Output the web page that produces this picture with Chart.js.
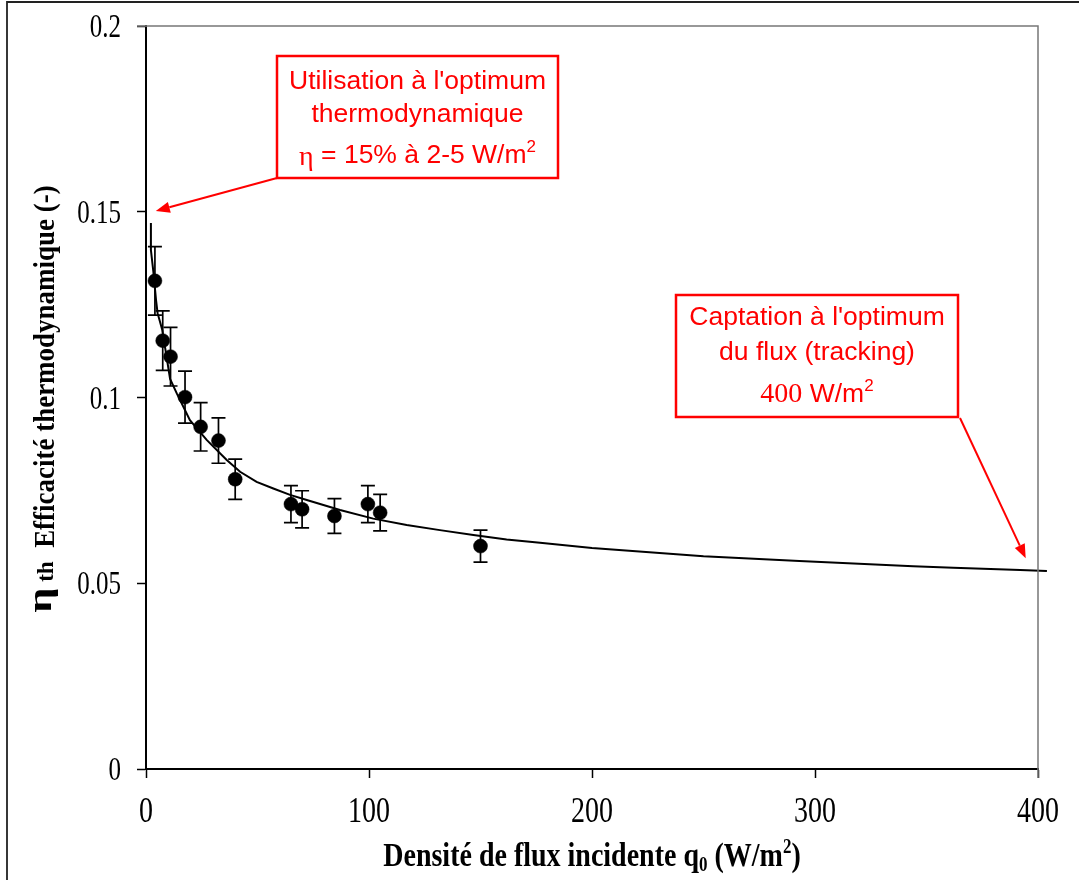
<!DOCTYPE html>
<html>
<head>
<meta charset="utf-8">
<script src="https://cdn.jsdelivr.net/npm/chart.js@4/dist/chart.umd.min.js"></script>
<style>
  html,body{margin:0;padding:0;background:#fff;}
  #wrap{width:1079px;height:880px;position:relative;}
</style>
</head>
<body>
<div id="wrap"><canvas id="c" width="1079" height="880"></canvas></div>
<script>
// ---- Data ----
const measQ   = [4, 7.5, 11, 17.5, 24.5, 32.5, 40, 65, 70, 84.5, 99.5, 105, 150];
const measEta = [0.1314, 0.1153, 0.1110, 0.1001, 0.0921, 0.0884, 0.0780, 0.0713, 0.0699, 0.0681, 0.0713, 0.0690, 0.0600];
const measErr = [0.0092, 0.0080, 0.0079, 0.0070, 0.0065, 0.0061, 0.0054, 0.0050, 0.0050, 0.0047, 0.0050, 0.0049, 0.0043];

const fitQ   = [2.2, 2.2, 3.3, 4.5, 5.2, 7.3, 10.8, 13.8, 19.7, 27.2, 36.2, 42.2, 49.6, 57.1, 64.6, 72.1, 87, 101.9, 116.9, 131.8, 146.8, 161.7, 176.7, 200, 250, 293, 344, 362, 392, 404];
const fitEta = [0.147, 0.1397, 0.1339, 0.1262, 0.1227, 0.1182, 0.1050, 0.1011, 0.0939, 0.0886, 0.0832, 0.0800, 0.0773, 0.0755, 0.0738, 0.0724, 0.0697, 0.0674, 0.0657, 0.0643, 0.0630, 0.0618, 0.0609, 0.0595, 0.0573, 0.0560, 0.0546, 0.0542, 0.0536, 0.0533];

const xTicks = [0, 100, 200, 300, 400];
const xTickLabels = ['0', '100', '200', '300', '400'];
const yTicks = [0, 0.05, 0.1, 0.15, 0.2];
const yTickLabels = ['0', '0.05', '0.1', '0.15', '0.2'];

const xTitleRuns = [
  {t:'Densité de flux incidente q', f:'bold 28px "Liberation Serif"', dy:0},
  {t:'0', f:'bold 17px "Liberation Serif"', dy:4},
  {t:' (W/m', f:'bold 28px "Liberation Serif"', dy:0},
  {t:'2', f:'bold 17px "Liberation Serif"', dy:-11},
  {t:')', f:'bold 28px "Liberation Serif"', dy:0}
];
const yTitleRuns = [
  {t:'η', f:'bold 34px "Liberation Serif"', dy:-3, sx:1.3},
  {t:' th', f:'bold 23px "Liberation Serif"', dy:-1, sx:1.0},
  {t:'  Efficacité thermodynamique (-)', f:'bold 29px "Liberation Serif"', dy:0, sx:0.93}
];
const note1 = {
  lines: [
    [{t:"Utilisation à l'optimum", f:'26.5px "Liberation Sans"', dy:0}],
    [{t:'thermodynamique', f:'26.5px "Liberation Sans"', dy:0}],
    [{t:'η', f:'28px "Liberation Serif"', dy:2}, {t:' = 15% à 2-5 W/m', f:'26.5px "Liberation Sans"', dy:0}, {t:'2', f:'17px "Liberation Sans"', dy:-11}]
  ],
  arrowTo: {x: 4.4, y: 0.1502}
};
const note2 = {
  lines: [
    [{t:"Captation à l'optimum", f:'26.5px "Liberation Sans"', dy:0}],
    [{t:'du flux (tracking)', f:'26.5px "Liberation Sans"', dy:0}],
    [{t:'400', f:'28px "Liberation Serif"', dy:0}, {t:' W/m', f:'26.5px "Liberation Sans"', dy:0}, {t:'2', f:'17px "Liberation Sans"', dy:-11}]
  ],
  arrowTo: {x: 394.5, y: 0.0567}
};

// ---- helpers ----
function runsWidth(ctx, runs){
  let w = 0;
  runs.forEach(r => { ctx.font = r.f; w += ctx.measureText(r.t).width * (r.sx || 1); });
  return w;
}
function drawRuns(ctx, runs, cx, baseY, align){
  const total = runsWidth(ctx, runs);
  let x = align === 'right' ? cx - total : cx - total/2;
  ctx.textBaseline = 'alphabetic';
  ctx.textAlign = 'left';
  runs.forEach(r => {
    ctx.font = r.f;
    const sx = r.sx || 1, sy = r.sy || 1;
    ctx.save();
    ctx.translate(x, baseY + r.dy);
    ctx.scale(sx, sy);
    ctx.fillText(r.t, 0, 0);
    ctx.restore();
    x += ctx.measureText(r.t).width * sx;
  });
}
function drawStretched(ctx, runs, cx, baseY, sy, align){
  ctx.save();
  ctx.translate(cx, baseY);
  ctx.scale(1, sy);
  drawRuns(ctx, runs, 0, 0, align);
  ctx.restore();
}
function arrow(ctx, x1, y1, x2, y2, color){
  const ang = Math.atan2(y2-y1, x2-x1);
  const L = 14, W = 5.5;
  const bx = x2 - L*Math.cos(ang), by = y2 - L*Math.sin(ang);
  ctx.strokeStyle = color; ctx.lineWidth = 2;
  ctx.beginPath(); ctx.moveTo(x1,y1); ctx.lineTo(bx,by); ctx.stroke();
  ctx.fillStyle = color;
  ctx.beginPath();
  ctx.moveTo(x2,y2);
  ctx.lineTo(bx + W*Math.sin(ang), by - W*Math.cos(ang));
  ctx.lineTo(bx - W*Math.sin(ang), by + W*Math.cos(ang));
  ctx.closePath(); ctx.fill();
}

const errorBars = {
  id:'errorBars',
  beforeDatasetsDraw(chart){
    const ctx = chart.ctx, xs = chart.scales.x, ys = chart.scales.y;
    ctx.save();
    ctx.strokeStyle = '#000'; ctx.lineWidth = 1.7;
    measQ.forEach((q,i) => {
      const px = xs.getPixelForValue(q);
      const top = ys.getPixelForValue(measEta[i] + measErr[i]);
      const bot = ys.getPixelForValue(measEta[i] - measErr[i]);
      ctx.beginPath();
      ctx.moveTo(px, top); ctx.lineTo(px, bot);
      ctx.moveTo(px-7, top); ctx.lineTo(px+7, top);
      ctx.moveTo(px-7, bot); ctx.lineTo(px+7, bot);
      ctx.stroke();
    });
    ctx.restore();
  }
};

const decorations = {
  id:'decorations',
  afterDraw(chart){
    const ctx = chart.ctx, a = chart.chartArea, xs = chart.scales.x, ys = chart.scales.y;
    ctx.save();
    // outer frame (top and left)
    ctx.strokeStyle = '#222'; ctx.lineWidth = 1.8;
    ctx.beginPath(); ctx.moveTo(7, 880); ctx.lineTo(7, 2); ctx.lineTo(1079, 2); ctx.stroke();
    // plot area top & right border
    ctx.strokeStyle = '#777'; ctx.lineWidth = 1.5;
    ctx.beginPath(); ctx.moveTo(a.left - 9, a.top); ctx.lineTo(a.right, a.top); ctx.lineTo(a.right, a.bottom + 9); ctx.stroke();

    // tick labels, positioned by the library's scales
    ctx.fillStyle = '#000';
    xTicks.forEach((v,i) => {
      drawStretched(ctx, [{t:xTickLabels[i], f:'28px "Liberation Serif"', dy:0}], xs.getPixelForValue(v), 822, 1.3);
    });
    yTicks.forEach((v,i) => {
      drawStretched(ctx, [{t:yTickLabels[i], f:'25px "Liberation Serif"', dy:0}], 121, ys.getPixelForValue(v) + 11, 1.35, 'right');
    });

    // axis titles
    drawStretched(ctx, xTitleRuns, (a.left + a.right)/2, 866, 1.2);
    ctx.save();
    ctx.translate(54, 399);
    ctx.rotate(-Math.PI/2);
    drawRuns(ctx, yTitleRuns, 0, 0);
    ctx.restore();

    // annotation boxes
    const red = '#ff0000';
    const boxes = [
      {n:note1, l:277, t:56, r:558, b:178, base:[89, 122, 163], from:[277,178]},
      {n:note2, l:676, t:295, r:958, b:417, base:[325, 360, 402], from:[960,418]}
    ];
    boxes.forEach(bx => {
      ctx.fillStyle = '#fff';
      ctx.fillRect(bx.l, bx.t, bx.r-bx.l, bx.b-bx.t);
      ctx.strokeStyle = red; ctx.lineWidth = 2.5;
      ctx.strokeRect(bx.l, bx.t, bx.r-bx.l, bx.b-bx.t);
      ctx.fillStyle = red;
      bx.n.lines.forEach((ln, i) => drawRuns(ctx, ln, (bx.l+bx.r)/2, bx.base[i]));
      arrow(ctx, bx.from[0], bx.from[1], xs.getPixelForValue(bx.n.arrowTo.x), ys.getPixelForValue(bx.n.arrowTo.y), red);
    });
    ctx.restore();
  }
};

new Chart(document.getElementById('c').getContext('2d'), {
  type:'scatter',
  data:{
    datasets:[
      { label:'Mesures', data: measQ.map((q,i)=>({x:q, y:measEta[i]})),
        pointRadius:7, pointHoverRadius:7, pointBackgroundColor:'#000', pointBorderColor:'#000', pointBorderWidth:0.5,
        showLine:false, order:1 },
      { label:'Modèle', data: fitQ.map((q,i)=>({x:q, y:fitEta[i]})),
        showLine:true, borderColor:'#000', borderWidth:2, pointRadius:0, pointHoverRadius:0, fill:false, tension:0,
        clip:false, order:2 }
    ]
  },
  options:{
    responsive:false, animation:false, devicePixelRatio:1,
    layout:{padding:{top:26, right:41, left:0, bottom:0}},
    plugins:{legend:{display:false}, tooltip:{enabled:false}},
    scales:{
      x:{ type:'linear', min:0, max:400,
          afterBuildTicks: s => { s.ticks = xTicks.map(v => ({value:v})); },
          ticks:{ display:false },
          grid:{ drawOnChartArea:false, drawTicks:true, tickLength:9, color:'#000', tickWidth:1.5 },
          border:{ color:'#000', width:2 },
          afterFit: s => { s.height = 111; } },
      y:{ type:'linear', min:0, max:0.2,
          afterBuildTicks: s => { s.ticks = yTicks.map(v => ({value:v})); },
          ticks:{ display:false },
          grid:{ drawOnChartArea:false, drawTicks:true, tickLength:9, color:'#000', tickWidth:1.5 },
          border:{ color:'#000', width:2 },
          afterFit: s => { s.width = 146; } }
    }
  },
  plugins:[errorBars, decorations]
});
</script>
</body>
</html>
